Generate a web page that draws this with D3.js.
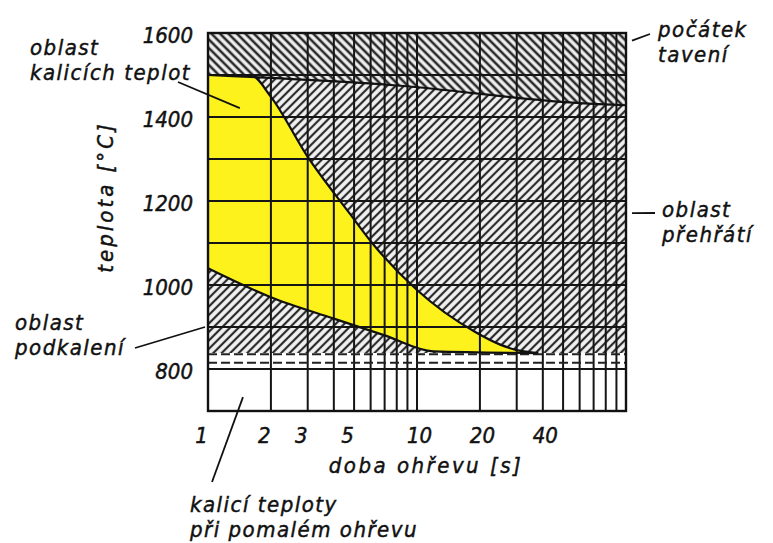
<!DOCTYPE html>
<html>
<head>
<meta charset="utf-8">
<script src="https://cdn.jsdelivr.net/npm/d3@7"></script>
<style>
  body { margin: 0; background: #fff; }
  svg text { font-family: "DejaVu Sans Condensed", "DejaVu Sans", sans-serif; font-style: italic; fill: #111; stroke: #111; stroke-width: 0.45px; }
</style>
</head>
<body>
<div id="chart"></div>
<script>
// axis ticks
const xTicks = [1, 2, 3, 5, 10, 20, 40];
const yTicks = [800, 1000, 1200, 1400, 1600];
const gridX = [1, 2, 3, 4, 5, 6, 7, 8, 9, 10, 20, 30, 40, 50, 60, 70, 80, 90, 100];
const gridY = [800, 900, 1000, 1100, 1200, 1300, 1400, 1500];

// pocatek taveni (melting start)
const meltTime = [1, 8, 60, 100];
const meltTemp = [1500, 1475, 1433, 1428];

// upper border of hardening temperatures
const upperTime = [1, 1.6, 2, 3, 4.75, 6.1, 10, 19, 25, 30, 38];
const upperTemp = [1500, 1500, 1448, 1305, 1171, 1100, 988, 888, 858, 845, 838];

// lower border of hardening temperatures
const lowerTime = [1, 2, 4, 7, 12, 38];
const lowerTemp = [1040, 971, 920, 880, 842, 838];

// hardening temps at slow heating (dashed band)
const slowBand = [815, 835];
const hatchBottom = 838;

const margin = { top: 33, right: 147, bottom: 132, left: 208 };
const width = 773 - margin.left - margin.right;
const height = 543 - margin.top - margin.bottom;

const svg = d3.select('#chart')
  .append('svg')
  .attr('width', 773)
  .attr('height', 543);

const defs = svg.append('defs');

function hatch(id, angle, sw) {
  const p = defs.append('pattern')
    .attr('id', id)
    .attr('patternUnits', 'userSpaceOnUse')
    .attr('width', 6)
    .attr('height', 6)
    .attr('patternTransform', 'rotate(' + angle + ')');
  p.append('rect').attr('width', 6).attr('height', 6).attr('fill', '#f2f2f2');
  p.append('line')
    .attr('x1', 2).attr('y1', 0).attr('x2', 2).attr('y2', 6)
    .attr('stroke', '#2a2a2a').attr('stroke-width', sw);
}
hatch('meltHatch', -45, 2.6);
hatch('overHatch', 45, 2.2);

const g = svg.append('g')
  .attr('transform', 'translate(' + margin.left + ',' + margin.top + ')');

const x = d3.scaleLog().domain([1, 100]).range([0, width]);
const y = d3.scaleLinear().domain([700, 1600]).range([height, 0]);

const zip = (a, b) => a.map((d, i) => [d, b[i]]);
const melt = zip(meltTime, meltTemp);
const upper = zip(upperTime, upperTemp);
const lower = zip(lowerTime, lowerTemp);

const line = d3.line()
  .x(d => x(d[0]))
  .y(d => y(d[1]))
  .curve(d3.curveMonotoneX);

// melting region (above melt line)
const meltArea = d3.area()
  .x(d => x(d[0]))
  .y0(y(1600))
  .y1(d => y(d[1]))
  .curve(d3.curveMonotoneX);
g.append('path').datum(melt).attr('d', meltArea).attr('fill', 'url(#meltHatch)');

// overheating + underhardening region
const overArea = d3.area()
  .x(d => x(d[0]))
  .y0(y(hatchBottom))
  .y1(d => y(d[1]))
  .curve(d3.curveMonotoneX);
g.append('path').datum(melt).attr('d', overArea).attr('fill', 'url(#overHatch)');

// hardening region (yellow)
const yellowPath = line(upper) + 'L' + line(lower.slice().reverse()).slice(1) + 'Z';
g.append('path').attr('d', yellowPath).attr('fill', '#fdf21c');

// grid
g.selectAll('.gx').data(gridX).enter().append('line')
  .attr('x1', d => x(d)).attr('x2', d => x(d))
  .attr('y1', 0).attr('y2', height)
  .attr('stroke', '#151515').attr('stroke-width', 2);
g.selectAll('.gy').data(gridY).enter().append('line')
  .attr('x1', 0).attr('x2', width)
  .attr('y1', d => y(d)).attr('y2', d => y(d))
  .attr('stroke', '#151515').attr('stroke-width', 2);

// slow heating dashed band
g.selectAll('.sb').data(slowBand).enter().append('line')
  .attr('x1', 0).attr('x2', width)
  .attr('y1', d => y(d)).attr('y2', d => y(d))
  .attr('stroke', '#222').attr('stroke-width', 2)
  .attr('stroke-dasharray', '9,4');

// boundary curves
[melt, upper, lower].forEach(data => {
  g.append('path').datum(data).attr('d', line)
    .attr('fill', 'none').attr('stroke', '#111').attr('stroke-width', 2.2);
});

// frame
g.append('rect').attr('width', width).attr('height', height)
  .attr('fill', 'none').attr('stroke', '#111').attr('stroke-width', 2.4);

// axes
const yAxis = d3.axisLeft(y).tickValues(yTicks).tickSize(0).tickPadding(15).tickFormat(d3.format('d'));
const yg = g.append('g').call(yAxis);
yg.select('.domain').remove();
yg.selectAll('text').attr('font-size', 22).attr('dy', '0.42em')
  .style('font-family', '"DejaVu Sans Condensed", "DejaVu Sans", sans-serif');

const xAxis = d3.axisBottom(x).tickValues(xTicks).tickSize(0).tickPadding(16).tickFormat(d3.format('d'));
const xg = g.append('g').attr('transform', 'translate(0,' + height + ')').call(xAxis);
xg.select('.domain').remove();
xg.selectAll('text').attr('font-size', 22).attr('dx', d => d < 10 ? -7 : 2)
  .style('font-family', '"DejaVu Sans Condensed", "DejaVu Sans", sans-serif');

// axis titles
svg.append('text')
  .attr('x', 426).attr('y', 473)
  .attr('text-anchor', 'middle')
  .attr('font-size', 22).attr('letter-spacing', 2.5)
  .text('doba ohřevu [s]');
svg.append('text')
  .attr('transform', 'translate(113,197) rotate(-90)')
  .attr('text-anchor', 'middle')
  .attr('font-size', 22).attr('letter-spacing', 3)
  .text('teplota [°C]');

// annotations
function label(lines, lx, ly) {
  const t = svg.append('text').attr('font-size', 22).attr('letter-spacing', 1.5);
  lines.forEach((s, i) => {
    t.append('tspan').attr('x', lx).attr('y', ly + i * 25).text(s);
  });
}
function leader(x1, y1, x2, y2) {
  svg.append('line').attr('x1', x1).attr('y1', y1).attr('x2', x2).attr('y2', y2)
    .attr('stroke', '#111').attr('stroke-width', 1.8);
}
const px = t => margin.left + x(t);
const py = v => margin.top + y(v);

label(['oblast', 'kalicích teplot'], 30, 55);
leader(178, 82, px(1.42), py(1421));

label(['oblast', 'podkalení'], 15, 330);
leader(135, 348, px(1) - 3, py(900));

label(['počátek', 'tavení'], 658, 37);
leader(px(100) + 6, py(1582), 650, 34);

label(['oblast', 'přehřátí'], 662, 217);
leader(px(100) + 6, py(1171), 655, 213);

label(['kalicí teploty', 'při pomalém ohřevu'], 190, 512);
leader(212, 482, px(1.47), py(733));
</script>
</body>
</html>
